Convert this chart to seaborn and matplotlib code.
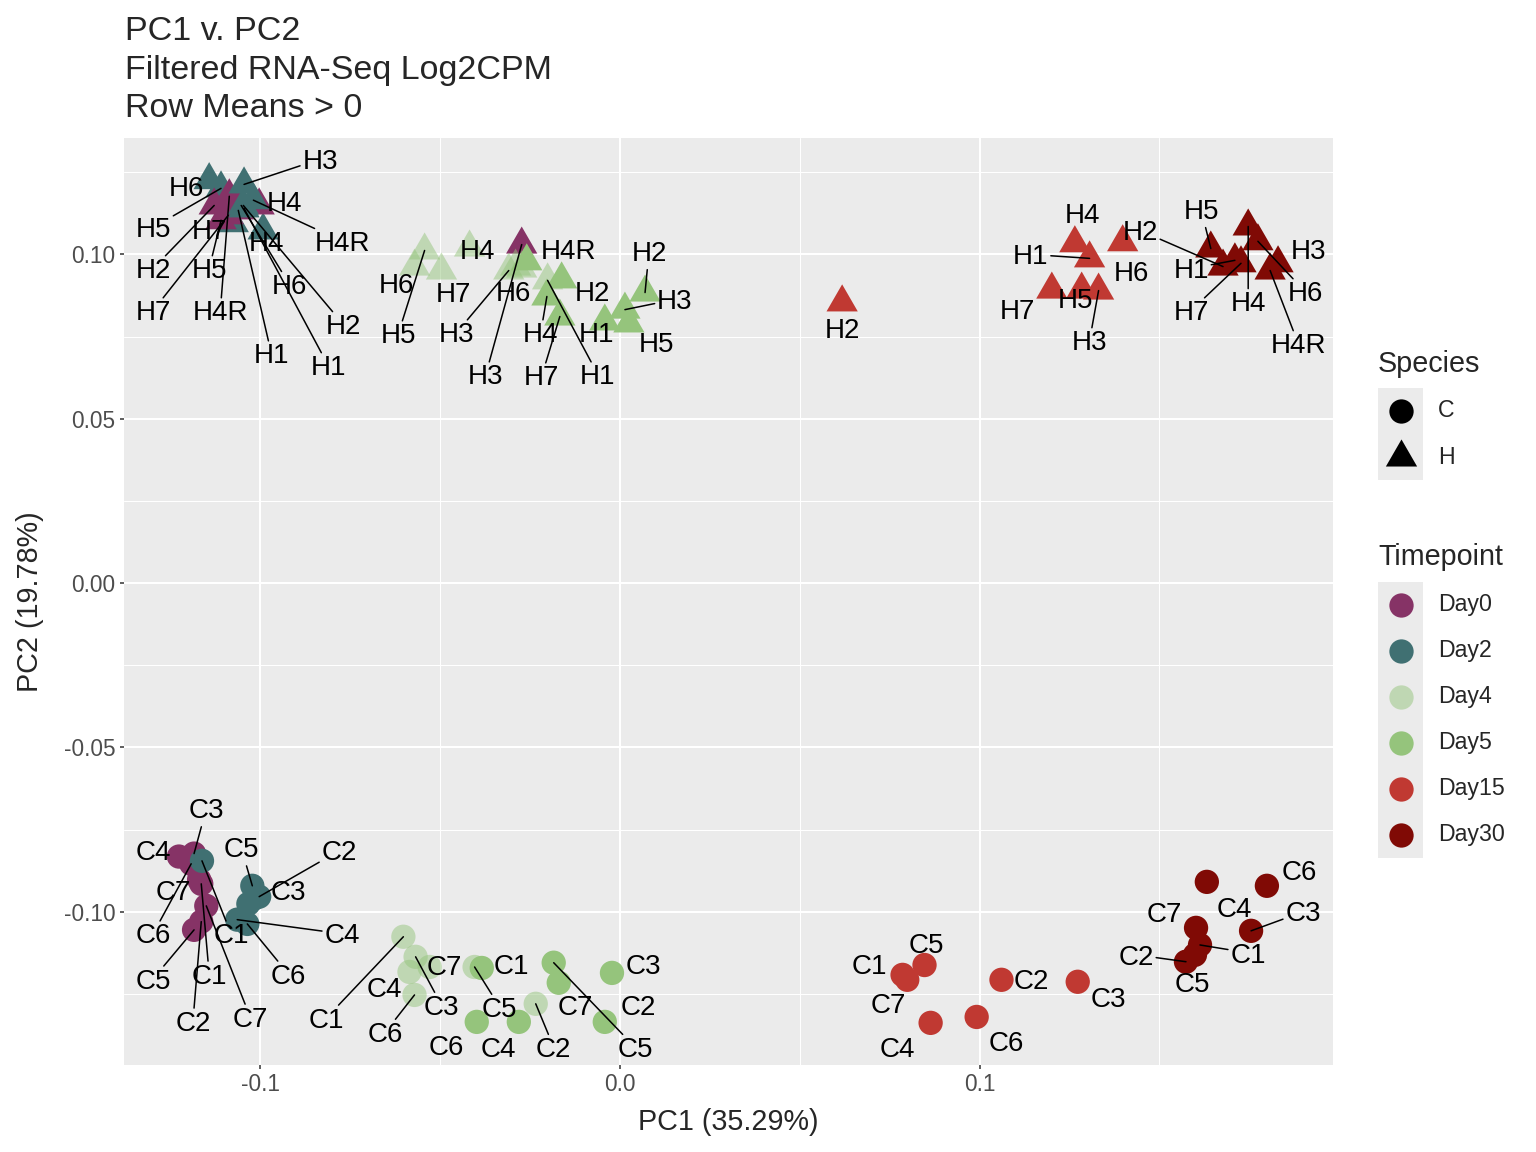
import numpy as np
import pandas as pd
import matplotlib
matplotlib.use("Agg")
import matplotlib.pyplot as plt
from matplotlib.path import Path
from matplotlib.lines import Line2D
from matplotlib.patches import Rectangle
from matplotlib.transforms import ScaledTranslation, IdentityTransform
import seaborn as sns

# timepoint palette (Day4 drawn semi-transparent, as in the original)
timepoints = ["Day0", "Day2", "Day4", "Day5", "Day15", "Day30"]
tp_colors = ["#863366", "#407072", "#95C47C", "#95C47C", "#C03932", "#800A05"]
tp_alpha = [1.0, 1.0, 0.5, 1.0, 1.0, 1.0]

# sample, timepoint, PC1, PC2, label x, label y (label position as repelled in the original)
samples = ["H6", "H5", "H7", "H4",
           "H1", "H2", "H4", "H4R", "H5", "H6", "H7", "H3",
           "H3", "H1", "H2", "H4R",
           "H5", "H6", "H7", "H4", "H3", "H6", "H1", "H4R",
           "H2", "H4R", "H4", "H7", "H1", "H3", "H2", "H5",
           "H2", "H4", "H1", "H6", "H7", "H5", "H3",
           "H5", "H2", "H1", "H7", "H4", "H6", "H3", "H4R",
           "C4", "C3", "C6", "C7", "C1", "C7", "C2", "C5",
           "C1", "C5", "C2", "C3", "C4", "C6", "C7",
           "C1", "C3", "C7", "C4", "C6", "C5", "C2",
           "C1", "C5", "C7", "C3", "C6", "C4", "C2",
           "C1", "C7", "C5", "C4", "C2", "C6", "C3",
           "C4", "C6", "C7", "C3", "C1", "C2", "C5"]
timepoint = (["Day2"] * 4 + ["Day0"] * 8 + ["Day2"] * 4 +
             ["Day4"] * 8 + ["Day5"] * 8 + ["Day15"] * 7 + ["Day30"] * 8 +
             ["Day0"] * 8 + ["Day2"] * 7 + ["Day4"] * 7 + ["Day5"] * 7 +
             ["Day15"] * 7 + ["Day30"] * 7)
pc1 = [-0.1142, -0.1109, -0.1075, -0.0992,
       -0.1061, -0.1128, -0.1003, -0.1086, -0.1109, -0.1053, -0.1089, -0.0273,
       -0.1045, -0.1045, -0.1047, -0.1019,
       -0.0543, -0.0571, -0.0496, -0.0418, -0.0309, -0.0290, -0.0201, -0.0273,
       -0.0162, -0.0259, -0.0203, -0.0167, -0.0042, 0.0014, 0.0070, 0.0025,
       0.0618, 0.1265, 0.1306, 0.1398, 0.1201, 0.1284, 0.1331,
       0.1643, 0.1677, 0.1710, 0.1727, 0.1747, 0.1774, 0.1830, 0.1808,
       -0.1226, -0.1184, -0.1192, -0.1170, -0.1164, -0.1150, -0.1164, -0.1184,
       -0.1162, -0.1022, -0.1003, -0.1017, -0.1064, -0.1036, -0.1033,
       -0.0602, -0.0568, -0.0529, -0.0585, -0.0571, -0.0404, -0.0234,
       -0.0384, -0.0184, -0.0170, -0.0022, -0.0398, -0.0281, -0.0042,
       0.0786, 0.0799, 0.0847, 0.0864, 0.1061, 0.0992, 0.1273,
       0.1632, 0.1799, 0.1602, 0.1755, 0.1613, 0.1574, 0.1599]
pc2 = [0.1226, 0.1201, 0.1095, 0.1073,
       0.1134, 0.1149, 0.1149, 0.1177, 0.1104, 0.1149, 0.1119, 0.1030,
       0.1213, 0.1140, 0.1149, 0.1165,
       0.1012, 0.0963, 0.0951, 0.1021, 0.0951, 0.0963, 0.0921, 0.0957,
       0.0924, 0.0979, 0.0872, 0.0811, 0.0796, 0.0832, 0.0884, 0.0790,
       0.0854, 0.1034, 0.0988, 0.1037, 0.0893, 0.0893, 0.0890,
       0.1018, 0.0963, 0.0982, 0.0973, 0.1085, 0.1040, 0.0973, 0.0951,
       -0.0832, -0.0823, -0.0854, -0.0902, -0.0915, -0.0982, -0.1030, -0.1055,
       -0.0845, -0.0921, -0.0954, -0.0960, -0.1024, -0.1037, -0.0976,
       -0.1076, -0.1137, -0.1168, -0.1183, -0.1253, -0.1168, -0.1280,
       -0.1171, -0.1155, -0.1216, -0.1186, -0.1335, -0.1335, -0.1335,
       -0.1192, -0.1207, -0.1162, -0.1338, -0.1207, -0.1320, -0.1213,
       -0.0909, -0.0921, -0.1049, -0.1058, -0.1101, -0.1152, -0.1131]
lab_x = [-0.1206, -0.1298, -0.1142, -0.0983,
         -0.0969, -0.1298, -0.0933, -0.1111, -0.1142, -0.0919, -0.1298, -0.0373,
         -0.0833, -0.0811, -0.0769, -0.0772,
         -0.0616, -0.0621, -0.0462, -0.0396, -0.0454, -0.0295, -0.0061, np.nan,
         -0.0075, -0.0142, -0.0220, -0.0217, -0.0064, 0.0153, 0.0081, 0.0103,
         0.0618, 0.1287, 0.1142, 0.1423, 0.1106, 0.1267, 0.1306,
         0.1616, 0.1446, 0.1588, 0.1588, 0.1747, 0.1905, 0.1914, 0.1886,
         -0.1298, -0.1150, -0.1298, -0.1242, -0.1142, -0.1028, -0.1187, -0.1298,
         -0.1081, -0.1053, -0.0780, -0.0922, -0.0772, -0.0922, np.nan,
         -0.0816, -0.0496, -0.0487, -0.0655, -0.0652, -0.0334, -0.0184,
         -0.0301, 0.0042, -0.0125, 0.0064, -0.0482, -0.0337, 0.0050,
         0.0694, 0.0747, 0.0852, 0.0772, 0.1145, 0.1075, 0.1359,
         0.1708, 0.1889, 0.1513, 0.1900, 0.1747, 0.1435, 0.1591]
lab_y = [0.1207, 0.1082, 0.1076, 0.1040,
         0.0698, 0.0957, 0.1162, 0.0829, 0.0957, 0.0909, 0.0829, 0.0634,
         0.1290, 0.0662, 0.0787, 0.1040,
         0.0759, 0.0912, 0.0884, 0.1015, 0.0762, 0.0887, 0.0634, np.nan,
         0.0887, 0.1015, 0.0762, 0.0631, 0.0762, 0.0863, 0.1009, 0.0732,
         0.0774, 0.1125, 0.1000, 0.0948, 0.0832, 0.0866, 0.0738,
         0.1137, 0.1073, 0.0957, 0.0829, 0.0857, 0.0887, 0.1015, 0.0729,
         -0.0814, -0.0686, -0.1067, -0.0936, -0.1189, -0.1320, -0.1332, -0.1204,
         -0.1067, -0.0805, -0.0814, -0.0936, -0.1067, -0.1189, np.nan,
         -0.1323, -0.1284, -0.1162, -0.1229, -0.1366, -0.1290, -0.1412,
         -0.1159, -0.1412, -0.1284, -0.1159, -0.1405, -0.1412, -0.1284,
         -0.1159, -0.1277, -0.1095, -0.1412, -0.1204, -0.1393, -0.1259,
         -0.0985, -0.0875, -0.1003, -0.1000, -0.1125, -0.1131, -0.1215]

df = pd.DataFrame({"Sample": samples, "Timepoint": timepoint,
                   "PC1": pc1, "PC2": pc2, "lab_x": lab_x, "lab_y": lab_y})
df["Species"] = df["Sample"].str[0]

pal = dict(zip(timepoints, tp_colors))
alpha = dict(zip(timepoints, tp_alpha))

sns.set_style("darkgrid", {"axes.facecolor": "#EBEBEB", "grid.color": "white"})
plt.rcParams["font.family"] = ["Liberation Sans", "DejaVu Sans"]

W, H = 1536, 1152
fig = plt.figure(figsize=(W / 100, H / 100), dpi=100)
ax = fig.add_axes([124 / W, 1 - 1065 / H, 1209 / W, 927 / H])

# ggplot-like triangle (equilateral, centred on centroid)
tri = Path([(0, 1), (-0.866, -0.5), (0.866, -0.5), (0, 1)],
           [Path.MOVETO, Path.LINETO, Path.LINETO, Path.CLOSEPOLY])
shapes = {"C": ("o", 17.5 ** 2), "H": (tri, 26 ** 2)}

for sp in ["H", "C"]:
    sub = df[df["Species"] == sp]
    mk, sz = shapes[sp]
    sns.scatterplot(data=sub, x="PC1", y="PC2", hue="Timepoint",
                    hue_order=timepoints, palette=pal, marker=mk, s=sz,
                    linewidth=0, edgecolor="none", legend=False, ax=ax, zorder=3)
    coll = ax.collections[-1]
    fc = np.array([matplotlib.colors.to_rgba(pal[t], alpha[t]) for t in sub["Timepoint"]])
    coll.set_facecolors(fc)

# limits: data range + 5% like ggplot
xr = df["PC1"].max() - df["PC1"].min()
yr = df["PC2"].max() - df["PC2"].min()
ax.set_xlim(df["PC1"].min() - 0.05 * xr, df["PC1"].max() + 0.05 * xr)
ax.set_ylim(df["PC2"].min() - 0.05 * yr, df["PC2"].max() + 0.05 * yr)

ax.set_xticks([-0.1, 0.0, 0.1])
ax.set_xticklabels(["-0.1", "0.0", "0.1"])
ax.set_yticks([-0.10, -0.05, 0.0, 0.05, 0.10])
ax.set_yticklabels(["-0.10", "-0.05", "0.00", "0.05", "0.10"])
ax.set_xticks([-0.05, 0.05, 0.15], minor=True)
ax.set_yticks([-0.125, -0.075, -0.025, 0.025, 0.075, 0.125], minor=True)
ax.grid(which="major", color="white", linewidth=1.5)
ax.grid(which="minor", color="white", linewidth=0.75)
ax.tick_params(which="major", length=3, width=1.1, color="#333333",
               labelsize=16.3, labelcolor="#4D4D4D", pad=3, bottom=True, left=True)
ax.tick_params(which="minor", length=0)
for s in ax.spines.values():
    s.set_visible(False)
ax.set_xlabel("PC1 (35.29%)", fontsize=20.7, labelpad=8.5)
ax.set_ylabel("PC2 (19.78%)", fontsize=20.7, labelpad=14.5)

# repelled labels; a segment only when the label sits away from its point
fig.canvas.draw()
rend = fig.canvas.get_renderer()
txt_tr = ax.transData + ScaledTranslation(0, -2.7 / 100, fig.dpi_scale_trans)
for r in df.itertuples():
    if np.isnan(r.lab_x):
        continue
    t = ax.text(r.lab_x, r.lab_y, r.Sample, ha="center", va="center",
                fontsize=20, color="black", zorder=5, transform=txt_tr)
    bb = t.get_window_extent(rend)
    px, py = ax.transData.transform((r.PC1, r.PC2))
    dx = max(bb.x0 - px, 0, px - bb.x1)
    dy = max(bb.y0 - py, 0, py - bb.y1)
    if np.hypot(dx, dy) > 22:
        box = Rectangle((bb.x0 - 2, bb.y0 - 2), bb.width + 4, bb.height + 4,
                        transform=IdentityTransform())
        ax.annotate("", xy=(r.PC1, r.PC2), xytext=(r.lab_x, r.lab_y), zorder=4,
                    arrowprops=dict(arrowstyle="-", color="black", lw=1.1,
                                    shrinkA=0, shrinkB=0, patchA=box))

# title
for txt, yb in zip(["PC1 v. PC2", "Filtered RNA-Seq Log2CPM", "Row Means > 0"], [40, 79, 117]):
    fig.text(125 / W, 1 - yb / H, txt, fontsize=24.5, va="baseline", ha="left")

# legends (ggplot style)
def key_block(title, ytitle, ytop, items):
    fig.text(1378 / W, 1 - ytitle / H, title, fontsize=20.7, va="baseline")
    n = len(items)
    fig.add_artist(Rectangle((1378 / W, 1 - (ytop + 46 * n) / H), 45 / W, 46 * n / H,
                             transform=fig.transFigure, color="#EBEBEB", lw=0))
    for i, (lab, mk, ms, col) in enumerate(items):
        yc = ytop + 23 + 46 * i
        fig.add_artist(Line2D([1400.5 / W], [1 - yc / H], transform=fig.transFigure,
                              marker=mk, markersize=ms, color=col, markeredgewidth=0,
                              linestyle="none"))
        fig.text(1438 / W, 1 - yc / H, lab, fontsize=16.7, va="center")

key_block("Species", 372, 388, [("C", "o", 17.5, "black"), ("H", tri, 26, "black")])
key_block("Timepoint", 565, 582,
          [(t, "o", 17.5, matplotlib.colors.to_rgba(c, a))
           for t, c, a in zip(timepoints, tp_colors, tp_alpha)])

fig.savefig("out.png", dpi=100)
